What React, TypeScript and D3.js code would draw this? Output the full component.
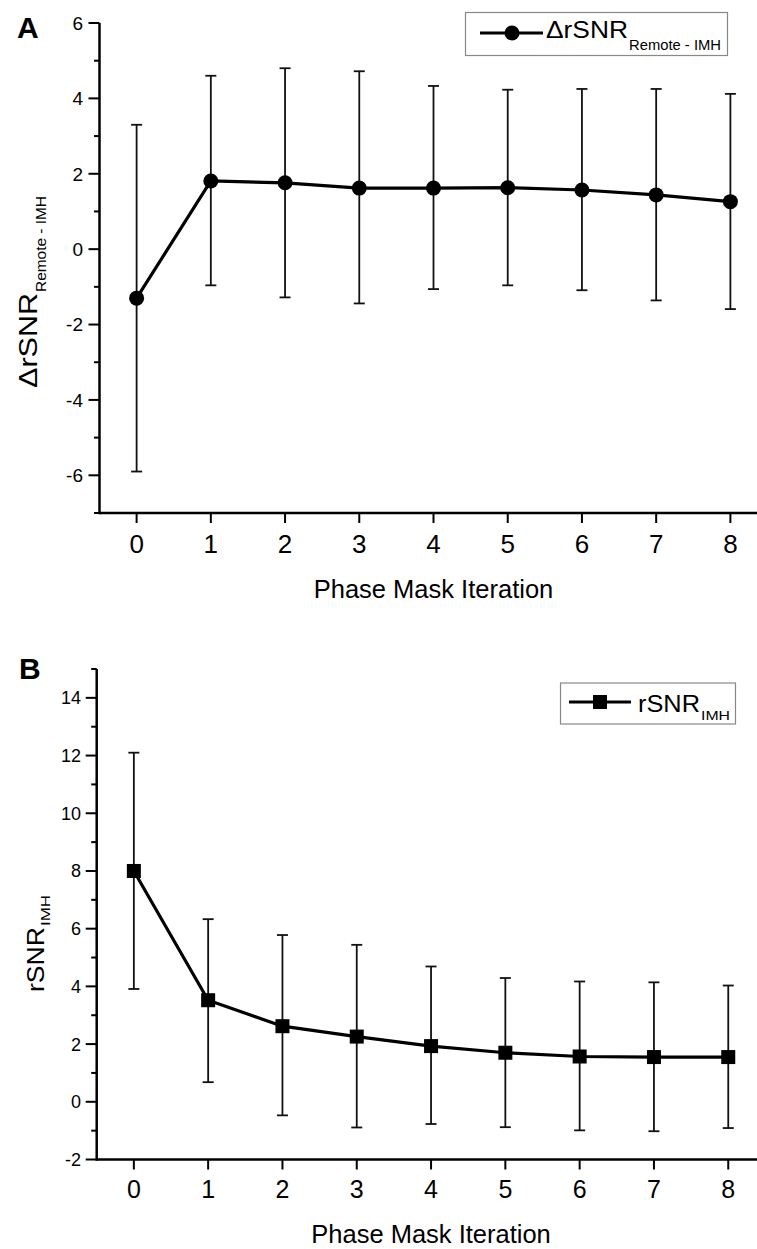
import React from "react";
import * as d3 from "d3";

const iterations = [0, 1, 2, 3, 4, 5, 6, 7, 8];
const deltaMean = [-1.3, 1.81, 1.76, 1.62, 1.62, 1.63, 1.57, 1.44, 1.26];
const deltaUpper = [3.3, 4.6, 4.8, 4.72, 4.33, 4.23, 4.25, 4.25, 4.12];
const deltaLower = [-5.9, -0.96, -1.28, -1.44, -1.06, -0.96, -1.09, -1.36, -1.59];
const imhMean = [8.0, 3.52, 2.62, 2.26, 1.93, 1.7, 1.57, 1.55, 1.55];
const imhUpper = [12.1, 6.33, 5.78, 5.44, 4.69, 4.29, 4.17, 4.14, 4.03];
const imhLower = [3.91, 0.68, -0.47, -0.89, -0.77, -0.88, -0.99, -1.02, -0.91];
const yMajorA = [-6, -4, -2, 0, 2, 4, 6];
const yMinorA = [-7, -5, -3, -1, 1, 3, 5];
const yMajorB = [-2, 0, 2, 4, 6, 8, 10, 12, 14];
const yMinorB = [-1, 1, 3, 5, 7, 9, 11, 13, 15];
const xTitle = "Phase Mask Iteration";
const labelA = { main: "ΔrSNR", sub: "Remote - IMH" };
const labelB = { main: "rSNR", sub: "IMH" };

const FONT = "'Liberation Sans', Arial, Helvetica, sans-serif";

type PanelProps = {
  x0: number; x1: number; yTop: number; yBot: number;
  yDomain: [number, number];
  yMajor: number[]; yMinor: number[];
  mean: number[]; upper: number[]; lower: number[];
  marker: "circle" | "square";
  yLabelX: number; yTickFont: number; xTickFont: number; xTickBase: number;
  xTitleBase: number;
};

function Panel(p: PanelProps) {
  const x = d3.scaleLinear().domain([-0.5, 8.5]).range([p.x0, p.x1]);
  const y = d3.scaleLinear().domain(p.yDomain).range([p.yBot, p.yTop]);
  const line = d3.line<number>().x((_, i) => x(iterations[i])).y((d) => y(d));
  const cap = 5.5;
  return (
    <g>
      <line x1={p.x0} x2={757} y1={p.yBot} y2={p.yBot} stroke="#000" strokeWidth={2.5} />
      <line x1={p.x0} x2={p.x0} y1={p.yTop} y2={p.yBot + 1.2} stroke="#000" strokeWidth={2.5} />
      {p.yMajor.map((t) => (
        <g key={"ma" + t}>
          <line x1={p.x0 - 11} x2={p.x0} y1={y(t)} y2={y(t)} stroke="#000" strokeWidth={2} />
          <text x={p.yLabelX} y={y(t) + p.yTickFont * 0.36} textAnchor="end" fontSize={p.yTickFont} fontFamily={FONT}>
            {t}
          </text>
        </g>
      ))}
      {p.yMinor.map((t) => (
        <line key={"mi" + t} x1={p.x0 - 5.5} x2={p.x0} y1={y(t)} y2={y(t)} stroke="#000" strokeWidth={2} />
      ))}
      {iterations.map((it) => (
        <g key={"xt" + it}>
          <line x1={x(it)} x2={x(it)} y1={p.yBot} y2={p.yBot + 10} stroke="#000" strokeWidth={2} />
          <text x={x(it)} y={p.xTickBase} textAnchor="middle" fontSize={p.xTickFont} fontFamily={FONT}>
            {it}
          </text>
        </g>
      ))}
      <text x={x(4)} y={p.xTitleBase} textAnchor="middle" fontSize={25.5} fontFamily={FONT}>
        {xTitle}
      </text>
      {iterations.map((it, i) => (
        <g key={"eb" + it} stroke="#111" strokeWidth={1.8}>
          <line x1={x(it)} x2={x(it)} y1={y(p.upper[i])} y2={y(p.lower[i])} />
          <line x1={x(it) - cap} x2={x(it) + cap} y1={y(p.upper[i])} y2={y(p.upper[i])} />
          <line x1={x(it) - cap} x2={x(it) + cap} y1={y(p.lower[i])} y2={y(p.lower[i])} />
        </g>
      ))}
      <path d={line(p.mean) || ""} fill="none" stroke="#000" strokeWidth={3.2} />
      {iterations.map((it, i) =>
        p.marker === "circle" ? (
          <circle key={"m" + it} cx={x(it)} cy={y(p.mean[i])} r={7.5} fill="#000" />
        ) : (
          <rect key={"m" + it} x={x(it) - 7} y={y(p.mean[i]) - 7} width={14} height={14} fill="#000" />
        )
      )}
    </g>
  );
}

type SubProps = {
  transform: string; main: string; sub: string;
  mainSize: number; subSize: number; mainLen: number; subLen: number; subDy: number; gap?: number;
};

function SubLabel(s: SubProps) {
  const g = s.gap ?? 1;
  return (
    <g transform={s.transform} fontFamily={FONT}>
      <text x={0} y={0} fontSize={s.mainSize} textLength={s.mainLen} lengthAdjust="spacingAndGlyphs">
        {s.main}
      </text>
      <text x={s.mainLen + g} y={s.subDy} fontSize={s.subSize} textLength={s.subLen} lengthAdjust="spacingAndGlyphs">
        {s.sub}
      </text>
    </g>
  );
}

export default function App() {
  return (
    <svg
      width={757}
      height={1249}
      style={{ position: "absolute", left: 0, top: 0, display: "block", background: "#fff" }}
      fontFamily={FONT}
    >
      <rect x={0} y={0} width={757} height={1249} fill="#fff" />
      {/* Panel A */}
      <text x={17} y={38} fontSize={30} fontWeight="bold">A</text>
      <Panel
        x0={99.5} x1={767.5} yTop={23} yBot={513} yDomain={[-7, 6]}
        yMajor={yMajorA} yMinor={yMinorA}
        mean={deltaMean} upper={deltaUpper} lower={deltaLower}
        marker="circle" yLabelX={83} yTickFont={19} xTickFont={26} xTickBase={553} xTitleBase={598}
      />
      <SubLabel transform="translate(37,388) rotate(-90)" main={labelA.main} sub={labelA.sub}
        mainSize={26} subSize={15.5} mainLen={95} subLen={96} subDy={9} />
      {/* Legend A */}
      <rect x={465.5} y={12.5} width={262} height={43} fill="#fff" stroke="#888" strokeWidth={1.2} />
      <line x1={480} x2={543} y1={33} y2={33} stroke="#000" strokeWidth={3.2} />
      <circle cx={512} cy={33} r={7.5} fill="#000" />
      <SubLabel transform="translate(546,38)" main={labelA.main} sub={labelA.sub}
        mainSize={23.5} subSize={15} mainLen={82} subLen={92} subDy={12} />

      {/* Panel B */}
      <text x={19} y={679} fontSize={30} fontWeight="bold">B</text>
      <Panel
        x0={96.7} x1={765.4} yTop={669} yBot={1159.5} yDomain={[-2, 15]}
        yMajor={yMajorB} yMinor={yMinorB}
        mean={imhMean} upper={imhUpper} lower={imhLower}
        marker="square" yLabelX={81} yTickFont={18} xTickFont={25} xTickBase={1198} xTitleBase={1243}
      />
      <SubLabel transform="translate(44,992) rotate(-90)" main={labelB.main} sub={labelB.sub}
        mainSize={24} subSize={12.5} mainLen={65} subLen={31} subDy={6} />
      {/* Legend B */}
      <rect x={560.5} y={683} width={175} height={41} fill="#fff" stroke="#888" strokeWidth={1.2} />
      <line x1={569} x2={631} y1={702} y2={702} stroke="#000" strokeWidth={3.2} />
      <rect x={593} y={695} width={14} height={14} fill="#000" />
      <SubLabel transform="translate(638,712)" main={labelB.main} sub={labelB.sub}
        mainSize={24} subSize={13} mainLen={62} subLen={29} subDy={8} />
    </svg>
  );
}
